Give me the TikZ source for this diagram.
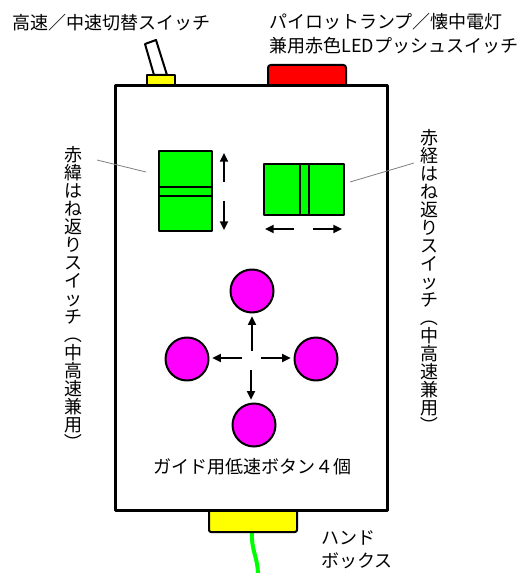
\documentclass[tikz,border=0pt]{standalone}
\usepackage{fontspec}
\usepackage{graphicx}
\setmainfont{Noto Sans CJK JP}
\usetikzlibrary{arrows.meta}
\definecolor{sgreen}{RGB}{0,255,0}
\definecolor{smag}{RGB}{255,0,255}
\definecolor{syel}{RGB}{255,255,0}
\definecolor{sred}{RGB}{255,0,0}
\newcommand{\vparL}{\rotatebox[origin=c]{-90}{（}}
\newcommand{\vparR}{\rotatebox[origin=c]{-90}{）}}
\newcommand{\vfs}{\fontsize{13.5}{13.5}\selectfont\lineskiplimit=-100pt\relax\lineskip=0pt\relax}
\begin{document}
\begin{tikzpicture}[x=0.75pt,y=-0.75pt,line join=round,
  lbl/.style={font=\fontsize{13.5}{18}\selectfont,inner sep=0pt},
  vlbl/.style={font=\vfs,inner sep=0pt,align=center,anchor=north},
  part/.style={draw=black,line width=1.5pt},
  sw/.style={part,fill=sgreen,inner sep=0pt},
  btn/.style={part,fill=smag,circle,minimum size=32.25pt,inner sep=0pt},
  arr/.style={-{Triangle[length=6.5pt,width=6pt]},line width=1.3pt},
  leader/.style={draw=gray,line width=0.6pt}]
\useasboundingbox (0,0) rectangle (521,573);

% cable and connectors
\draw[sgreen,line width=3pt] (252,531) .. controls (251,552) and (258,556) .. (258,576);
\draw[part,fill=syel,rounded corners=1.5pt] (209,508) -- (209,532) -- (297,532) -- (297,508);
\draw[part,fill=syel] (147,86) rectangle (175,75);
\draw[part,fill=white] (145,44) -- (156,40) -- (167,75) -- (154,75) -- cycle;
\draw[part,fill=sred,rounded corners=2pt] (268,87) -- (268,65) -- (346,65) -- (346,87);

% main box
\draw[line width=2.25pt,fill=white] (115,86) rectangle (387,510);

% vertical switch
\node[sw,minimum width=39.75pt,minimum height=60pt] (vsw) at (185.5,191) {};
\draw[part] (159,187) -- (212,187) (159,196) -- (212,196);
\draw[arr] (224,182) -- (224,153);
\draw[arr] (224,201) -- (224,230);

% horizontal switch
\node[sw,minimum width=60pt,minimum height=38.25pt] (hsw) at (304,189.5) {};
\draw[part] (300,164) -- (300,215) (309,164) -- (309,215);
\draw[arr] (294,229) -- (265,229);
\draw[arr] (313,229) -- (342,229);

% buttons
\node[btn] (bt) at (252,291) {};
\node[btn] (bl) at (187,359) {};
\node[btn] (br) at (316,359) {};
\node[btn] (bb) at (254,425) {};
\coordinate (cu) at (252,351);
\coordinate (cl) at (242,358);
\coordinate (cr) at (261,358);
\coordinate (cd) at (251,370);
\draw[arr,shorten >=2pt] (cu) -- (bt.south -| cu);
\draw[arr,shorten >=2pt] (cl) -- (bl.east |- cl);
\draw[arr,shorten >=2pt] (cr) -- (br.west |- cr);
\draw[arr,shorten >=2pt] (cd) -- (bb.north -| cd);

% texts
\node[lbl,anchor=west] (t1) at (12,23) {高速／中速切替スイッチ};
\node[lbl,anchor=north west,align=left] (t2) at (269,13) {パイロットランプ／懐中電灯\\兼用赤色LEDプッシュスイッチ};
\node[lbl] (t3) at (252,467) {ガイド用低速ボタン４個};
\node[lbl,anchor=north west,align=left,font=\fontsize{13.5}{17.5}\selectfont] (t4) at (321,530) {ハンド\\ボックス};
\node[vlbl] (lv) at (73,146) {赤\\緯\\は\\ね\\返\\り\\ス\\イ\\ッ\\チ\\\vparL\\中\\高\\速\\兼\\用\\\vparR};
\node[vlbl] (rv) at (429,129) {赤\\経\\は\\ね\\返\\り\\ス\\イ\\ッ\\チ\\\vparL\\中\\高\\速\\兼\\用\\\vparR};

% leaders
\coordinate (l1) at (97,160);
\coordinate (l2) at (146,172);
\coordinate (r1) at (414,163);
\coordinate (r2) at (350,182);
\draw[leader] (l1) -- (l2);
\draw[leader] (r1) -- (r2);
\end{tikzpicture}
\end{document}
